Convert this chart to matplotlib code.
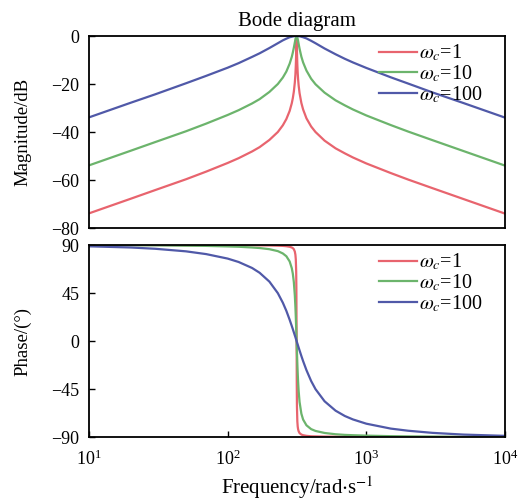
import matplotlib.pyplot as plt

plt.rcParams["font.family"] = "Liberation Serif"
plt.rcParams["mathtext.fontset"] = "stix"
plt.rcParams["font.size"] = 13

# frequency points (rad/s)
freq = [10, 20, 30, 50, 70, 100, 120, 150, 170, 200, 230, 250, 265, 280, 290,
        295, 300, 305, 308, 310, 312, 313, 314, 315, 316, 318, 320, 322, 325,
        330, 340, 350, 370, 400, 430, 500, 600, 700, 800, 1000, 1500, 2000,
        3000, 5000, 10000]

labels = [r"$\omega_c$=1", r"$\omega_c$=10", r"$\omega_c$=100"]
colors = ["#e8646e", "#6cb46c", "#5059a8"]

# magnitude (dB)
mag_1 = [-73.9, -67.8, -64.2, -59.7, -56.5, -52.9, -50.9, -48.1, -46.3, -43.3,
         -40.0, -37.2, -34.6, -31.2, -28.0, -25.9, -23.2, -19.4, -16.0, -12.4,
         -7.6, -3.7, -0.1, -2.3, -6.4, -11.9, -15.4, -17.9, -20.6, -23.8,
         -27.9, -30.6, -34.3, -37.7, -40.0, -43.6, -46.8, -48.9, -50.6, -53.1,
         -57.1, -59.8, -63.4, -67.9, -74.0]
mag_10 = [-53.9, -47.8, -44.2, -39.7, -36.5, -32.9, -30.9, -28.1, -26.3, -23.3,
          -20.0, -17.3, -14.8, -11.5, -8.7, -6.9, -4.9, -2.7, -1.4, -0.7,
          -0.2, -0.1, 0.0, 0.0, -0.1, -0.6, -1.3, -2.0, -3.3, -5.3,
          -8.6, -11.0, -14.4, -17.8, -20.1, -23.6, -26.8, -28.9, -30.6, -33.1,
          -37.1, -39.8, -43.4, -47.9, -54.0]
mag_100 = [-33.9, -27.8, -24.3, -19.7, -16.6, -13.2, -11.3, -8.7, -7.2, -5.0,
           -3.0, -1.8, -1.1, -0.5, -0.3, -0.2, -0.1, 0.0, 0.0, 0.0,
           0.0, 0.0, 0.0, 0.0, 0.0, 0.0, 0.0, 0.0, -0.1, -0.1,
           -0.3, -0.5, -1.0, -2.0, -3.0, -5.2, -7.6, -9.5, -11.0, -13.3,
           -17.2, -19.8, -23.5, -27.9, -34.0]

# phase (deg)
ph_1 = [90.0, 90.0, 90.0, 89.9, 89.9, 89.9, 89.8, 89.8, 89.7, 89.6,
        89.4, 89.2, 88.9, 88.4, 87.7, 87.1, 86.1, 83.9, 80.9, 76.6,
        65.2, 49.3, 9.1, -40.0, -61.4, -75.3, -80.2, -82.6, -84.6, -86.3,
        -87.7, -88.3, -88.9, -89.3, -89.4, -89.6, -89.7, -89.8, -89.8, -89.9,
        -89.9, -90.0, -90.0, -90.0, -90.0]
ph_10 = [89.9, 89.8, 89.7, 89.4, 89.2, 88.7, 88.4, 87.7, 87.2, 86.1,
         84.3, 82.1, 79.5, 74.6, 68.3, 63.2, 55.4, 42.9, 31.9, 22.7,
         12.2, 6.6, 0.9, -4.8, -10.4, -20.9, -30.1, -37.8, -46.8, -57.1,
         -68.1, -73.6, -79.0, -82.6, -84.3, -86.2, -87.4, -88.0, -88.3, -88.7,
         -89.2, -89.4, -89.6, -89.8, -89.9]
ph_100 = [88.8, 87.7, 86.5, 84.1, 81.5, 77.3, 74.1, 68.5, 64.0, 55.7,
          44.9, 35.9, 28.3, 19.9, 14.1, 11.2, 8.2, 5.3, 3.6, 2.4,
          1.2, 0.7, 0.1, -0.5, -1.1, -2.2, -3.3, -4.4, -6.1, -8.8,
          -14.0, -18.8, -27.3, -37.5, -45.1, -56.5, -65.3, -70.3, -73.5, -77.5,
          -82.1, -84.1, -86.1, -87.7, -88.9]

fig = plt.figure(figsize=(5.21, 5.01), dpi=100)
ax_m = fig.add_axes([0.1708, 0.5449, 0.7985, 0.3832])
ax_p = fig.add_axes([0.1708, 0.1277, 0.7985, 0.3832])

for mag, lab, c in zip([mag_1, mag_10, mag_100], labels, colors):
    ax_m.plot(freq, mag, color=c, lw=1.6, label=lab)
for ph, lab, c in zip([ph_1, ph_10, ph_100], labels, colors):
    ax_p.plot(freq, ph, color=c, lw=1.6, label=lab)

for ax in (ax_m, ax_p):
    ax.set_xscale("log")
    ax.set_xlim(10, 1e4)
    ax.minorticks_off()
    ax.tick_params(direction="in", length=4, width=1, labelsize=13, pad=7,
                   top=False, right=False)
    for s in ax.spines.values():
        s.set_linewidth(1.3)
    ax.legend(loc="upper right", bbox_to_anchor=(0.971, 1.016),
              frameon=False, fontsize=14.5,
              handlelength=1.9, handletextpad=0.1, labelspacing=0.0,
              borderaxespad=0.3, borderpad=0.2)

ax_m.set_ylim(-80, 0)
ax_m.set_yticks([-80, -60, -40, -20, 0])
ax_m.set_xticks([])
ax_m.set_ylabel("Magnitude/dB", fontsize=13.5, labelpad=14)
ax_m.set_title("Bode diagram", fontsize=15, pad=7)

ax_p.set_ylim(-90, 90)
ax_p.set_yticks([-90, -45, 0, 45, 90])
ax_p.set_xticks([10, 100, 1000, 10000])
ax_p.tick_params(axis="x", pad=9)
ax_p.set_ylabel("Phase/(°)", fontsize=13.5, labelpad=14)
ax_p.set_xlabel(r"Frequency/rad$\cdot$s$^{-1}$", fontsize=15, labelpad=4)

fig.savefig("out.png", dpi=100)
